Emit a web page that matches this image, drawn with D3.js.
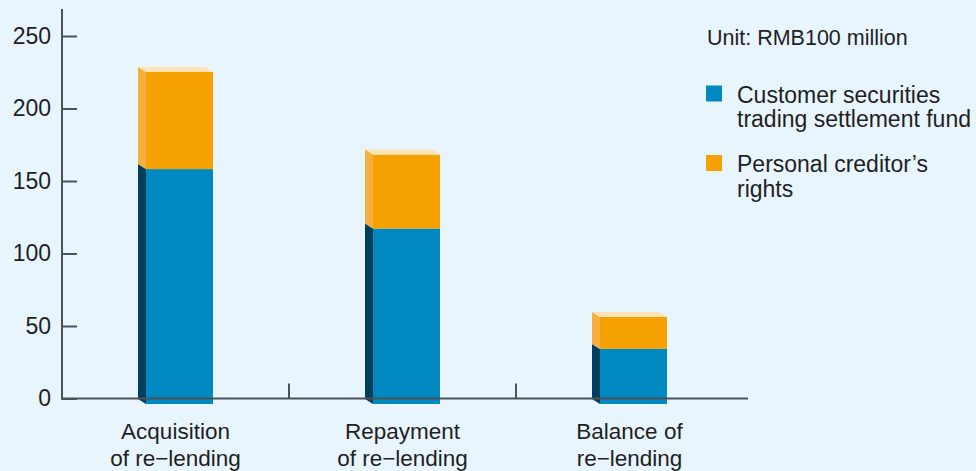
<!DOCTYPE html>
<html>
<head>
<meta charset="utf-8">
<script src="https://cdn.jsdelivr.net/npm/d3@7"></script>
<style>
  html, body { margin: 0; padding: 0; background: #e8f5fd; }
  svg { display: block; font-family: "Liberation Sans", Arial, sans-serif; }
</style>
</head>
<body>
<svg id="chart" width="976" height="471"></svg>
<script>
const categories = [["Acquisition", "of re\u2212lending"], ["Repayment", "of re\u2212lending"], ["Balance of", "re\u2212lending"]];
const customerFund = [162, 121, 38];
const creditorRights = [67, 51, 22];
const yTicks = [0, 50, 100, 150, 200, 250];
const legendLabels = [["Customer securities", "trading settlement fund"], ["Personal creditor\u2019s", "rights"]];
const unitLabel = "Unit: RMB100 million";

const svg = d3.select("#chart");
const W = 976, H = 471;
svg.append("rect").attr("width", W).attr("height", H).attr("fill", "#e8f5fd");

const axisColor = "#4b5359";
const textColor = "#1f1f1f";
const x0 = 62, x1 = 743, xEnd = 748;
const y = d3.scaleLinear().domain([0, 250]).range([398.5, 36]);
const x = d3.scaleBand().domain(d3.range(categories.length)).range([x0, x1]).paddingInner(0).paddingOuter(0);

const depthX = 8, depthY = 5;
const barW = 75; // total incl. side
const frontW = barW - depthX;

const colors = {
  blue: { front: "#0089c1", side: "#023e5e" },
  orange: { front: "#f5a100", side: "#f6ae3c" },
  top: "#fde3b5"
};

const stacked = categories.map((c, i) => {
  const b = customerFund[i], o = creditorRights[i];
  return [
    { key: "blue", y0: 0, y1: b },
    { key: "orange", y0: b, y1: b + o }
  ];
});

const g = svg.append("g");
stacked.forEach((segs, i) => {
  const cx = x(i) + x.bandwidth() / 2;
  const fl = cx - barW / 2 + depthX;
  const fr = fl + frontW;
  segs.forEach(s => {
    const yt = y(s.y1) + depthY + 0.5;
    const yb = y(s.y0) + depthY + 0.5;
    g.append("rect").attr("x", fl).attr("y", yt).attr("width", frontW).attr("height", yb - yt)
      .attr("fill", colors[s.key].front);
    g.append("path")
      .attr("d", `M${fl - depthX},${yt - depthY} L${fl},${yt} L${fl},${yb} L${fl - depthX},${yb - depthY} Z`)
      .attr("fill", colors[s.key].side);
  });
  const top = segs[segs.length - 1];
  const yt = y(top.y1) + depthY + 0.5;
  g.append("path")
    .attr("d", `M${fl},${yt} L${fr},${yt} L${fr - depthX},${yt - depthY} L${fl - depthX},${yt - depthY} Z`)
    .attr("fill", colors.top);
});

// Y axis
const yAxis = d3.axisLeft(y).tickValues(yTicks).tickSizeInner(-15).tickSizeOuter(0);
const yg = svg.append("g").attr("transform", `translate(${x0},0)`).call(yAxis);
yg.select(".domain").remove();
yg.selectAll(".tick line").attr("stroke", axisColor).attr("stroke-width", 2);
yg.selectAll(".tick text").attr("fill", textColor).attr("font-size", 23)
  .attr("font-family", "Liberation Sans, Arial, sans-serif").attr("x", -11);
svg.append("line").attr("x1", x0).attr("x2", x0).attr("y1", 9).attr("y2", y(0) + 1)
  .attr("stroke", axisColor).attr("stroke-width", 2);

// X axis line & ticks between categories
svg.append("line").attr("x1", x0 - 1).attr("x2", xEnd).attr("y1", y(0)).attr("y2", y(0))
  .attr("stroke", axisColor).attr("stroke-width", 2);
const boundaries = d3.range(1, categories.length).map(i => x(i));
svg.selectAll(".xtick").data(boundaries).join("line")
  .attr("x1", d => d).attr("x2", d => d).attr("y1", y(0)).attr("y2", y(0) - 15)
  .attr("stroke", axisColor).attr("stroke-width", 2);

// X labels
categories.forEach((lines, i) => {
  const cx = x(i) + x.bandwidth() / 2;
  const t = svg.append("text").attr("text-anchor", "middle").attr("fill", textColor)
    .attr("font-size", 22.5);
  lines.forEach((ln, k) => {
    t.append("tspan").attr("x", cx).attr("y", 439 + k * 26.5).text(ln);
  });
});

// Unit label
svg.append("text").attr("x", 707).attr("y", 45).attr("font-size", 21.5).attr("fill", textColor).text(unitLabel);

// Legend
const legendColors = [colors.blue.front, colors.orange.front];
const legendY = [102.5, 172];
legendLabels.forEach((lines, i) => {
  svg.append("rect").attr("x", 706).attr("y", legendY[i] - 17).attr("width", 16).attr("height", 16)
    .attr("fill", legendColors[i]);
  const t = svg.append("text").attr("fill", textColor).attr("font-size", 23);
  lines.forEach((ln, k) => {
    t.append("tspan").attr("x", 737).attr("y", legendY[i] + k * 24.8).text(ln);
  });
});
</script>
</body>
</html>
